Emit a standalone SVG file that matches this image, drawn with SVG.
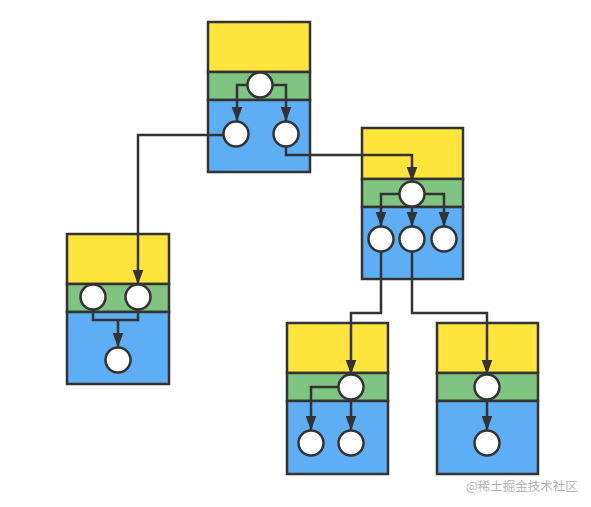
<svg xmlns="http://www.w3.org/2000/svg" width="591" height="507" viewBox="0 0 591 507">
<style>
.y{fill:#FFE43C;stroke:#333;stroke-width:2.5}
.g{fill:#7FC480;stroke:#333;stroke-width:2.5}
.b{fill:#5DAEF4;stroke:#333;stroke-width:2.5}
.c{fill:#fff;stroke:#333;stroke-width:2.5}
.e{fill:none;stroke:#333;stroke-width:2.5}
.a{marker-end:url(#arr)}
.wm{font-family:"Noto Sans CJK SC","Noto Sans",sans-serif;font-size:12.5px;fill:#b4b4b4}
</style>
<defs>
<marker id="arr" markerUnits="userSpaceOnUse" markerWidth="16" markerHeight="12" refX="15" refY="5.5" orient="auto">
<path d="M0,0 L15,5.5 L0,11 z" fill="#333"/>
</marker>
</defs>
<rect width="591" height="507" fill="#fff"/>
<g id="node1">
<rect class="y" x="208" y="22" width="102" height="50"/>
<rect class="g" x="208" y="72" width="102" height="28"/>
<rect class="b" x="208" y="100" width="102" height="72"/>
</g>
<g id="node2">
<rect class="y" x="362" y="128" width="101" height="51"/>
<rect class="g" x="362" y="179" width="101" height="28"/>
<rect class="b" x="362" y="207" width="101" height="72"/>
</g>
<g id="node3">
<rect class="y" x="67" y="234" width="102" height="50"/>
<rect class="g" x="67" y="284" width="102" height="28"/>
<rect class="b" x="67" y="312" width="102" height="72"/>
</g>
<g id="node4">
<rect class="y" x="287" y="323" width="101" height="50"/>
<rect class="g" x="287" y="373" width="101" height="28"/>
<rect class="b" x="287" y="401" width="101" height="73"/>
</g>
<g id="node5">
<rect class="y" x="437" y="323" width="101" height="50"/>
<rect class="g" x="437" y="373" width="101" height="28"/>
<rect class="b" x="437" y="401" width="101" height="73"/>
</g>
<g id="connectors">
<path class="e a" d="M248,85 H237 V121.5"/>
<path class="e a" d="M272,85 H286 V121.5"/>
<path class="e a" d="M224,135 H138 V284.5"/>
<path class="e a" d="M286,146 V155 H412 V181.5"/>
<path class="e a" d="M400,194 H381 V226.5"/>
<path class="e a" d="M412,206 V226.5"/>
<path class="e a" d="M424,194 H444 V226.5"/>
<path class="e a" d="M381,251 V313 H351 V374.5"/>
<path class="e a" d="M412,251 V313 H487 V374.5"/>
<path class="e" d="M93,309 V320 H138 V309"/>
<path class="e a" d="M118,320 V347.5"/>
<path class="e a" d="M339,387 H311 V430.5"/>
<path class="e a" d="M351,399 V430.5"/>
<path class="e a" d="M487,399 V430.5"/>
</g>
<g id="circles1">
<circle class="c" cx="260" cy="85" r="12.5"/>
<circle class="c" cx="236" cy="134" r="12.5"/>
<circle class="c" cx="286" cy="134" r="12.5"/>
</g>
<g id="circles2">
<circle class="c" cx="412" cy="194" r="12.5"/>
<circle class="c" cx="381" cy="239" r="12.5"/>
<circle class="c" cx="412" cy="239" r="12.5"/>
<circle class="c" cx="444" cy="239" r="12.5"/>
</g>
<g id="circles3">
<circle class="c" cx="93" cy="297" r="12.5"/>
<circle class="c" cx="138" cy="297" r="12.5"/>
<circle class="c" cx="118" cy="360" r="12.5"/>
</g>
<g id="circles4">
<circle class="c" cx="351" cy="387" r="12.5"/>
<circle class="c" cx="311" cy="443" r="12.5"/>
<circle class="c" cx="351" cy="443" r="12.5"/>
</g>
<g id="circles5">
<circle class="c" cx="487" cy="387" r="12.5"/>
<circle class="c" cx="487" cy="443" r="12.5"/>
</g>
<text class="wm" x="466" y="491">@稀土掘金技术社区</text>
</svg>
